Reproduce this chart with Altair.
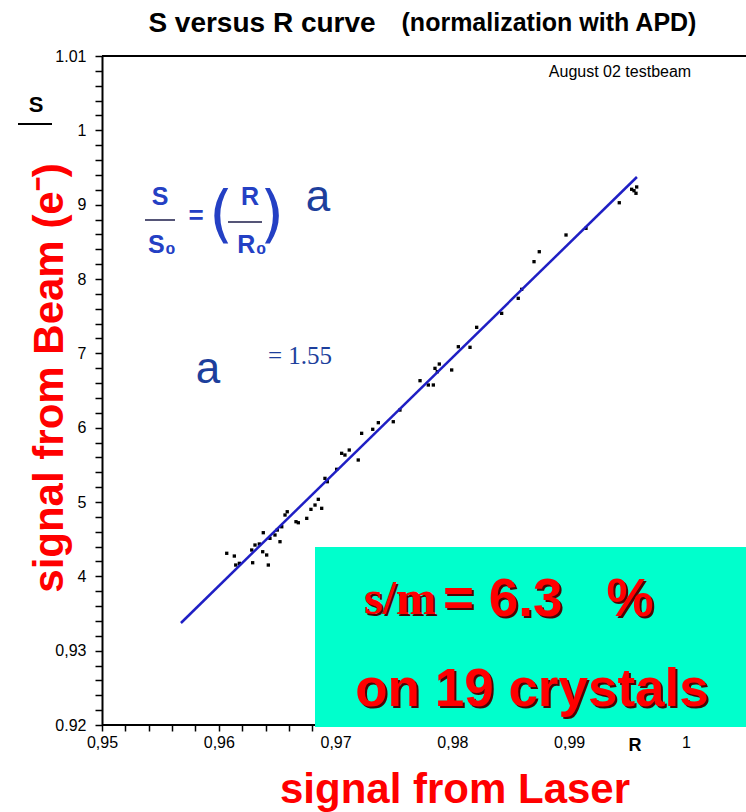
import altair as alt
import pandas as pd

# ---- data ----
R = [0.96068, 0.96133, 0.96145, 0.96176, 0.96290, 0.96424, 0.96410, 0.96282, 0.96310, 0.96347,
     0.96381, 0.96376, 0.96438, 0.96481, 0.96501, 0.96524, 0.96539, 0.96567, 0.96661, 0.96681,
     0.96753, 0.96824, 0.96852, 0.96789, 0.96881, 0.96586, 0.96909, 0.96929, 0.97009, 0.97052,
     0.97080, 0.97117, 0.97194, 0.97223, 0.97318, 0.97366, 0.97494, 0.97551, 0.97723, 0.97794,
     0.97837, 0.97851, 0.97888, 0.97871, 0.97994, 0.98051, 0.98151, 0.98208, 0.98422, 0.98564,
     0.98593, 0.98699, 0.98744, 0.98973, 0.99144, 0.99429, 0.99555, 0.99572, 0.99535, 0.99578]
S = [0.94310, 0.94273, 0.94152, 0.94175, 0.94183, 0.94152, 0.94287, 0.94354, 0.94421, 0.94435,
     0.94587, 0.94331, 0.94511, 0.94556, 0.94623, 0.94466, 0.94667, 0.94825, 0.94735, 0.94721,
     0.94780, 0.94959, 0.95036, 0.94901, 0.94915, 0.94869, 0.95318, 0.95273, 0.95440, 0.95655,
     0.95632, 0.95699, 0.95565, 0.95924, 0.95978, 0.96067, 0.96080, 0.96237, 0.96632, 0.96574,
     0.96574, 0.96798, 0.96856, 0.96753, 0.96776, 0.97089, 0.97081, 0.97350, 0.97538, 0.97740,
     0.97861, 0.98233, 0.98367, 0.98592, 0.98682, 0.99026, 0.99188, 0.99153, 0.99207, 0.99238]

fit_R = [0.95676, 0.99580]
fit_S = [0.93372, 0.99372]

x_major = [0.95, 0.96, 0.97, 0.98, 0.99, 1.00]
x_minor = [0.952, 0.954, 0.956, 0.958, 0.962, 0.964, 0.966, 0.968, 0.972, 0.974, 0.976, 0.978,
           0.982, 0.984, 0.986, 0.988, 0.992, 0.994, 0.996, 0.998, 1.002, 1.004]
y_major = [0.92, 0.93, 0.94, 0.95, 0.96, 0.97, 0.98, 0.99, 1.00, 1.01]
y_minor = [0.922, 0.924, 0.926, 0.928, 0.932, 0.934, 0.936, 0.938, 0.942, 0.944, 0.946, 0.948,
           0.952, 0.954, 0.956, 0.958, 0.962, 0.964, 0.966, 0.968, 0.972, 0.974, 0.976, 0.978,
           0.982, 0.984, 0.986, 0.988, 0.992, 0.994, 0.996, 0.998, 1.002, 1.004, 1.006, 1.008]

title_main = "S versus R curve"
title_sub = "(normalization with APD)"
note = "August 02 testbeam"
y_title = "signal from Beam (e⁻)"
x_title = "signal from Laser"
box_line1a = "s/m"
box_line1b = "=\u00a06.3\u00a0\u00a0\u00a0%"
box_line2 = "on 19 crystals"
alpha_value = "= 1.55"

W, H = 644, 669
xs = alt.Scale(domain=[0.95, 1.00514], nice=False, zero=False)
ys = alt.Scale(domain=[0.92, 1.01], nice=False, zero=False)

pts = pd.DataFrame({"R": R, "S": S})
fit = pd.DataFrame({"R": fit_R, "S": fit_S})

LABEL_FONT = "Liberation Sans, Arial, sans-serif"
BOLD_FONT = "Liberation Sans, Arial, sans-serif"
SERIF = "Liberation Serif, Times New Roman, serif"

MINOR = "abs(datum.value * 100 - round(datum.value * 100)) > 0.05"
y_label_expr = (
    MINOR + " ? '' : "
    "format(datum.value,'.2f') == '1.01' ? '1.01' : "
    "format(datum.value,'.2f') == '1.00' ? '1' : "
    "format(datum.value,'.2f') == '0.92' ? '0.92' : "
    "format(datum.value,'.2f') == '0.93' ? '0,93' : "
    "slice(format(datum.value,'.2f'), 3)"
)
x_label_expr = (MINOR + " ? '' : datum.value > 0.9995 ? '1' : "
                "replace(format(datum.value,'.2f'), '.', ',')")

XAXIS = alt.Axis(
    values=sorted(x_major + x_minor), labelExpr=x_label_expr, ticks=True,
    tickSize=6, tickColor="black", tickWidth=1.5,
    tickOpacity={"condition": {"test": "datum.value > 0.969", "value": 0}, "value": 1},
    grid=False, title=None, domain=False,
    labelFont=LABEL_FONT, labelFontSize=16,
    labelColor="black", labelPadding=3, labelFlush=False, labelOverlap=False)
YAXIS = alt.Axis(
    values=sorted(y_major + y_minor), labelExpr=y_label_expr, ticks=True,
    tickSize=7, tickColor="black", tickWidth=1.5,
    grid=False, title=None,
    domainColor="black", domainWidth=2, labelFont=LABEL_FONT, labelFontSize=16,
    labelColor="black", labelPadding=9, labelFlush=False, labelOverlap=False)

points = alt.Chart(pts).mark_square(size=11, color="black", opacity=1).encode(
    x=alt.X("R:Q", scale=xs, axis=XAXIS),
    y=alt.Y("S:Q", scale=ys, axis=YAXIS),
)

line = alt.Chart(fit).mark_line(color="#1f1fc4", strokeWidth=2.5).encode(
    x=alt.X("R:Q", scale=xs, axis=XAXIS), y=alt.Y("S:Q", scale=ys, axis=YAXIS))


def txt(s, x, y, **kw):
    return alt.Chart(alt.Data(values=[{"t": s}])).mark_text(**kw).encode(
        text="t:N", x=alt.value(x), y=alt.value(y))


def seg(x1, x2, y, color, w):
    return alt.Chart(alt.Data(values=[{"k": 0}])).mark_rule(color=color, strokeWidth=w).encode(
        x=alt.value(x1), x2=alt.value(x2), y=alt.value(y))


top_frame = seg(0, W, 0, "black", 2)
bottom_frame = seg(0, W, H, "black", 2)

box = alt.Chart(alt.Data(values=[{"k": 0}])).mark_rect(color="#00FFCC").encode(
    x=alt.value(213), x2=alt.value(W), y=alt.value(491), y2=alt.value(671))

BLUE = "#2440c4"
NAVY = "#1d3f9c"
RED = "#ff0000"
SHADOW = "#4a0505"

layers = [
    points,
    line,
    top_frame,
    bottom_frame,
    # titles
    txt(title_main, 160, -24, font=BOLD_FONT, fontSize=28, fontWeight="bold", color="black",
        align="center", baseline="alphabetic"),
    txt(title_sub, 447, -25, font=BOLD_FONT, fontSize=25, fontWeight="bold", color="black",
        align="center", baseline="alphabetic"),
    txt(note, 518, 16, font=LABEL_FONT, fontSize=16, color="black", align="center", baseline="middle"),
    # S over ... (y axis label of the original)
    txt("S", -66, 49, font=BOLD_FONT, fontSize=22, fontWeight="bold", color="black",
        align="center", baseline="middle"),
    seg(-84, -50, 68, "black", 2),
    # formula
    txt("S", 58, 141, font=BOLD_FONT, fontSize=25, fontWeight="bold", color=BLUE,
        align="center", baseline="middle"),
    seg(43, 73, 164, "#555577", 2),
    txt("S₀", 60, 189, font=BOLD_FONT, fontSize=25, fontWeight="bold", color=BLUE,
        align="center", baseline="middle"),
    txt("=", 94, 160, font=BOLD_FONT, fontSize=26, fontWeight="bold", color=BLUE,
        align="center", baseline="middle"),
    txt("(", 119, 160, font="DejaVu Sans, sans-serif", fontSize=62, color=BLUE,
        align="center", baseline="middle"),
    txt("R", 148, 141, font=BOLD_FONT, fontSize=25, fontWeight="bold", color=BLUE,
        align="center", baseline="middle"),
    seg(126, 160, 166, "#555577", 2),
    txt("R₀", 150, 189, font=BOLD_FONT, fontSize=25, fontWeight="bold", color=BLUE,
        align="center", baseline="middle"),
    txt(")", 170, 160, font="DejaVu Sans, sans-serif", fontSize=62, color=BLUE,
        align="center", baseline="middle"),
    txt("a", 216, 142, font=LABEL_FONT, fontSize=44, color=NAVY, align="center", baseline="middle"),
    txt("a", 106, 314, font=LABEL_FONT, fontSize=44, color=NAVY, align="center", baseline="middle"),
    txt(alpha_value, 166, 300, font=SERIF, fontSize=25, color=NAVY, align="left", baseline="middle"),
    # axis titles
    txt(y_title, -52, 322, font=BOLD_FONT, fontSize=42, fontWeight="bold", color=RED,
        align="center", baseline="middle", angle=270),
    txt("R", 533, 690, font=BOLD_FONT, fontSize=18, fontWeight="bold", color="black",
        align="center", baseline="middle"),
    txt(x_title, 353, 734, font=BOLD_FONT, fontSize=42, fontWeight="bold", color=RED,
        align="center", baseline="middle"),
    # cyan box
    box,
    txt(box_line1a, 336, 546, font=SERIF, fontSize=48, fontWeight="bold", color=SHADOW,
        align="right", baseline="middle"),
    txt(box_line1a, 334, 544, font=SERIF, fontSize=48, fontWeight="bold", color=RED,
        align="right", baseline="middle"),
    txt(box_line1b, 343, 546, font=BOLD_FONT, fontSize=53, fontWeight="bold", color=SHADOW,
        align="left", baseline="middle"),
    txt(box_line1b, 341, 544, font=BOLD_FONT, fontSize=53, fontWeight="bold", color=RED,
        align="left", baseline="middle"),
    txt(box_line2, 432, 636, font=BOLD_FONT, fontSize=53, fontWeight="bold", color=SHADOW,
        align="center", baseline="middle"),
    txt(box_line2, 430, 634, font=BOLD_FONT, fontSize=53, fontWeight="bold", color=RED,
        align="center", baseline="middle"),
]

chart = alt.layer(*layers).properties(
    width=W, height=H,
    autosize=alt.AutoSizeParams(type="none"),
    padding={"left": 102, "top": 56, "right": 0, "bottom": 87},
    background="white",
).configure_view(stroke=None)

chart.save("out.html", embed_options={"renderer": "svg", "actions": False})
